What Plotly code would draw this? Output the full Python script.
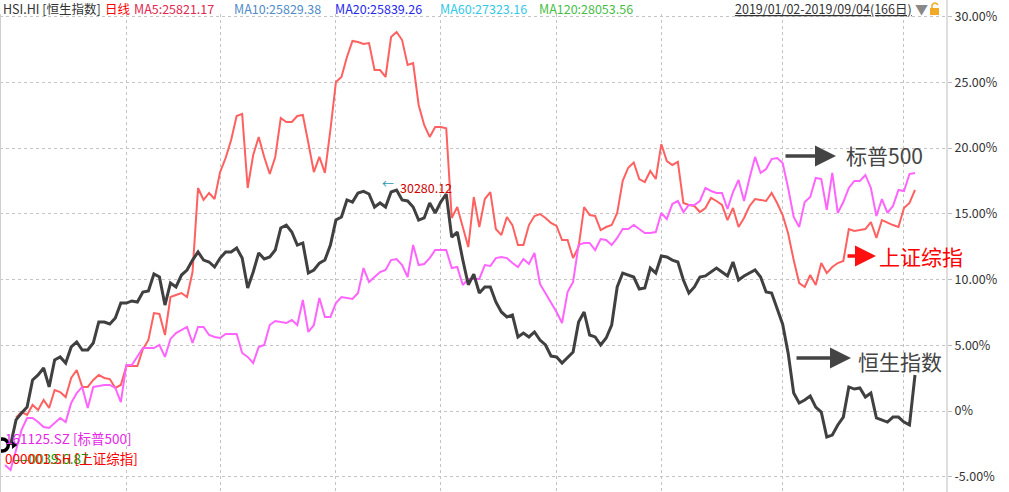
import plotly.graph_objects as go

# ---------------- data (cumulative % change) ----------------
hsi_days = list(range(1, 166))
hsi_values = [
    -2.59, -0.68, -0.15, 0.30, 2.36, 2.74, 3.27, 1.83, 3.88, 4.11,
    3.65, 4.87, 5.25, 4.64, 4.64, 5.17, 6.77, 6.77, 6.62, 7.07,
    8.21, 8.21, 8.37, 8.29, 9.05, 9.13, 10.42, 10.19, 8.06, 9.73,
    9.43, 10.34, 10.72, 11.48, 12.09, 11.48, 11.33, 10.95, 11.63, 12.09,
    12.09, 12.40, 11.63, 9.35, 10.57, 12.02, 11.56, 11.71, 12.24, 13.92,
    14.14, 13.61, 12.62, 12.78, 10.49, 10.72, 11.25, 11.48, 12.62, 14.52,
    14.75, 16.05, 15.89, 16.58, 16.70, 16.50, 15.51, 15.82, 15.51, 16.65,
    16.80, 16.05, 15.97, 15.51, 14.52, 14.68, 15.82, 15.06, 15.89, 16.50,
    13.23, 13.61, 11.50, 9.60, 10.40, 8.97, 9.43, 9.43, 8.29, 7.53,
    7.15, 7.30, 5.63, 5.93, 5.63, 6.01, 5.40, 5.02, 4.18, 4.11,
    3.65, 4.11, 4.49, 6.77, 7.53, 5.78, 5.63, 5.02, 5.55, 6.54,
    9.43, 10.49, 10.34, 10.19, 9.28, 9.35, 10.87, 10.49, 11.79, 11.71,
    11.48, 11.33, 9.96, 8.97, 9.43, 10.19, 10.27, 10.57, 10.87, 10.57,
    10.27, 11.33, 9.96, 10.27, 10.49, 10.72, 10.19, 9.05, 8.97, 7.83,
    6.60, 4.40, 1.37, 0.61, 0.84, 1.14, 0.30, -0.08, -1.98, -1.83,
    -1.06, -0.46, 1.83, 1.67, 1.75, 1.06, 1.37, -0.53, -0.68, -0.84,
    -0.46, -0.46, -0.84, -1.06, 2.74,
]

sh_days = list(range(2, 166))
sh_values = [
    -0.50, -0.08, -0.30, 0.46, 0.08, 0.84, 0.23, 1.60, 1.44, 1.06,
    2.51, 3.12, 1.83, 1.83, 2.36, 2.74, 2.51, 2.43, 1.75, 1.98,
    3.42, 3.42, 3.42, 4.71, 5.40, 7.45, 7.38, 5.78, 8.67, 8.82,
    8.97, 8.67, 10.57, 16.96, 16.05, 16.58, 16.12, 18.17, 19.24, 20.61,
    22.43, 22.59, 16.96, 19.47, 20.84, 19.32, 18.02, 19.32, 22.28, 21.98,
    21.98, 22.43, 22.51, 20.38, 18.17, 19.32, 18.10, 21.37, 25.02, 25.40,
    26.92, 28.14, 28.06, 27.91, 27.98, 25.93, 25.93, 25.40, 28.44, 28.82,
    28.21, 26.31, 26.46, 23.27, 21.75, 20.84, 21.60, 21.60, 21.50, 14.68,
    15.51, 14.00, 12.47, 16.27, 13.99, 16.12, 16.65, 13.84, 13.38, 14.75,
    14.14, 12.62, 12.62, 14.14, 14.83, 14.98, 14.68, 14.30, 14.07, 13.00,
    13.00, 11.63, 12.47, 15.51, 14.90, 14.83, 13.76, 13.99, 14.14, 15.06,
    17.50, 18.50, 18.90, 17.64, 17.41, 18.25, 17.64, 20.30, 19.01, 18.71,
    18.94, 15.82, 15.67, 15.59, 15.13, 15.44, 16.20, 15.97, 15.67, 14.52,
    15.44, 13.99, 14.68, 15.59, 16.12, 16.05, 15.97, 16.58, 15.82, 14.90,
    13.50, 11.48, 9.73, 9.43, 10.34, 9.58, 11.25, 10.49, 10.95, 11.25,
    11.41, 13.84, 13.69, 13.76, 13.84, 14.37, 13.16, 14.52, 14.30, 14.14,
    13.99, 15.44, 15.82, 16.81,
]

sp_days = [
    0, 1, 2, 3, 4, 5, 6, 7, 8, 10, 11, 12, 13, 14, 15, 16, 17, 18, 19, 20,
    21, 22, 23, 25, 27, 28, 29, 30, 31, 33, 34, 35, 36, 37, 38, 39, 40, 42, 43, 44,
    45, 46, 47, 48, 49, 50, 51, 52, 53, 54, 55, 56, 57, 58, 59, 60, 61, 63, 64, 65,
    66, 67, 68, 69, 70, 71, 72, 73, 74, 75, 76, 77, 78, 80, 81, 82, 83, 84, 85, 86,
    87, 88, 89, 90, 91, 92, 93, 94, 95, 96, 97, 98, 99, 100, 101, 102, 103, 104, 105, 106,
    107, 108, 109, 110, 111, 112, 113, 114, 115, 116, 117, 118, 119, 120, 121, 122, 123, 124, 125, 126,
    127, 128, 129, 130, 131, 132, 133, 134, 135, 136, 137, 138, 139, 140, 141, 142, 143, 144, 145, 146,
    147, 148, 149, 150, 151, 152, 153, 154, 155, 156, 157, 158, 159, 160, 161, 162, 163, 164, 165,
]
sp_values = [
    -4.11, -4.49, -2.97, -1.44, -0.53, -0.53, -0.84, -1.22, -1.29, -0.53, -0.84, 0.61, 1.37, 1.83, 0.23, 1.83, 1.90, 1.98, 1.98, 1.75,
    0.68, 3.50, 3.50, 4.79, 4.79, 5.02, 4.11, 5.48, 5.93, 6.39, 5.17, 6.39, 6.39, 5.78, 5.63, 5.55, 5.86, 5.86, 4.41, 4.11,
    3.65, 4.87, 5.02, 6.54, 6.84, 6.77, 6.69, 6.92, 6.54, 8.44, 6.01, 6.54, 8.59, 7.15, 7.15, 8.21, 8.67, 8.52, 8.97, 10.87,
    9.81, 10.19, 10.57, 10.72, 11.48, 11.56, 11.10, 10.19, 12.62, 11.10, 11.18, 11.63, 12.24, 12.24, 10.87, 10.95, 9.58, 10.04, 10.04, 10.04,
    11.10, 11.03, 11.63, 11.71, 11.63, 11.25, 10.95, 11.56, 11.18, 12.02, 9.66, 8.97, 8.21, 7.53, 6.69, 9.05, 9.81, 12.62, 12.78, 12.78,
    12.24, 13.08, 13.00, 12.62, 13.16, 13.84, 13.84, 14.14, 13.84, 13.54, 13.54, 13.61, 15.06, 14.60, 15.74, 15.97, 15.13, 15.67, 15.67, 15.97,
    16.96, 16.73, 16.58, 16.58, 15.36, 16.65, 17.57, 15.97, 17.72, 19.32, 18.10, 18.40, 19.16, 19.24, 18.86, 16.96, 14.75, 13.99, 15.89, 16.27,
    17.72, 17.64, 15.29, 18.10, 15.06, 15.89, 16.96, 17.49, 17.49, 17.95, 16.96, 14.83, 16.12, 15.06, 15.59, 16.81, 16.73, 18.02, 18.10,
]

month_start_days = [22, 39, 60, 79, 100, 119, 141, 163]
y_tick_vals = [-5, 0, 5, 10, 15, 20, 25, 30]
y_tick_text = ["-5.00%", "0%", "5.00%", "10.00%", "15.00%", "20.00%", "25.00%", "30.00%"]

hsi_max_label = "30280.12"

# ---------------- styling ----------------
FONT = "Microsoft YaHei, Noto Sans CJK SC, sans-serif"
W, H = 1009, 492
ML, MR, MT, MB = 0, 62, 14, 0
PW, PH = W - ML - MR, H - MT - MB


def PX(px):
    return (px - ML) / PW


def PY(py):
    return (H - MB - py) / PH


fig = go.Figure()
fig.add_trace(go.Scatter(x=sh_days, y=sh_values, mode="lines",
                         line=dict(color="rgb(255,96,96)", width=2), name="上证综指",
                         hoverinfo="skip"))
fig.add_trace(go.Scatter(x=sp_days, y=sp_values, mode="lines",
                         line=dict(color="rgb(255,100,255)", width=2), name="标普500",
                         hoverinfo="skip"))
fig.add_trace(go.Scatter(x=hsi_days, y=hsi_values, mode="lines",
                         line=dict(color="rgb(64,64,64)", width=3), name="恒生指数",
                         hoverinfo="skip"))
# start-point marker of HSI
fig.add_trace(go.Scatter(x=[hsi_days[0] - 1.5], y=[hsi_values[0]], mode="markers",
                         marker=dict(symbol="circle", size=12, color="white",
                                     line=dict(color="black", width=3.5)),
                         hoverinfo="skip", cliponaxis=False))
fig.add_trace(go.Scatter(x=[hsi_days[0] + 0.6], y=[hsi_values[0]], mode="markers",
                         marker=dict(symbol="triangle-right", size=7, color="black"),
                         hoverinfo="skip"))

ann = []


def header(text, px, color, size=12.5, anchor="left"):
    ann.append(dict(text=text, x=PX(px), y=PY(9), xref="paper", yref="paper",
                    xanchor=anchor, yanchor="middle", showarrow=False,
                    font=dict(family=FONT, size=size, color=color)))


header("HSI.HI [恒生指数]", 1, "#333333")
header("日线", 103, "#ff0000")
header("MA5:25821.17", 132, "rgb(226,40,80)")
header("MA10:25829.38", 232, "rgb(80,140,200)")
header("MA20:25839.26", 333, "rgb(40,40,235)")
header("MA60:27323.16", 438, "rgb(50,200,230)")
header("MA120:28053.56", 537, "rgb(70,190,70)")
header("<u>2019/01/02-2019/09/04(166日)</u>", 733, "#333333")
header("▼", 913, "#888888", size=13)

# bottom-left legend labels
ann.append(dict(text="161125.SZ [标普500]", x=PX(3), y=PY(438), xref="paper", yref="paper",
                xanchor="left", yanchor="middle", showarrow=False,
                font=dict(family=FONT, size=13.5, color="rgb(230,40,230)")))
ann.append(dict(text="‒‒0039.6.87", x=PX(12), y=PY(458), xref="paper", yref="paper",
                xanchor="left", yanchor="middle", showarrow=False,
                font=dict(family=FONT, size=13.5, color="rgb(0,160,0)")))
ann.append(dict(text="000001.SH [上证综指]", x=PX(3), y=PY(458), xref="paper", yref="paper",
                xanchor="left", yanchor="middle", showarrow=False,
                font=dict(family=FONT, size=13.5, color="rgb(255,0,0)")))

# max label of HSI
imax = max(range(len(hsi_values)), key=lambda i: hsi_values[i])
ann.append(dict(text=hsi_max_label, x=hsi_days[imax], y=hsi_values[imax], xref="x", yref="y",
                xanchor="left", yanchor="middle", xshift=1, yshift=3, showarrow=False,
                font=dict(family=FONT, size=12.5, color="rgb(210,0,0)")))
ann.append(dict(text="←", x=hsi_days[imax], y=hsi_values[imax], xref="x", yref="y",
                xanchor="right", yanchor="middle", xshift=-1, yshift=7, showarrow=False,
                font=dict(family=FONT, size=12, color="rgb(40,150,180)")))


# series name arrows + labels
def tag(text, color, head_px, head_py, tail_len, text_px, text_py, arrow_color):
    ann.append(dict(text="", x=PX(head_px), y=PY(head_py), xref="paper", yref="paper",
                    showarrow=True, ax=-tail_len, ay=0, axref="pixel", ayref="pixel",
                    arrowhead=2, arrowsize=1.2, arrowwidth=3.5, arrowcolor=arrow_color))
    ann.append(dict(text=text, x=PX(text_px), y=PY(text_py), xref="paper", yref="paper",
                    xanchor="left", yanchor="middle", showarrow=False,
                    font=dict(family=FONT, size=21, color=color)))


tag("标普500", "#444444", 836, 156, 52, 844, 155, "#444444")
tag("上证综指", "#ff0000", 876, 256, 30, 877, 256, "#ff1010")
tag("恒生指数", "#444444", 851, 358, 56, 856, 361, "#444444")

shapes = [
    # right axis line extended full height
    dict(type="line", xref="paper", yref="paper", x0=PX(947), x1=PX(947), y0=PY(492), y1=PY(0),
         line=dict(color="#bdbdbd", width=1)),
    # left border
    dict(type="line", xref="paper", yref="paper", x0=PX(0.5), x1=PX(0.5), y0=PY(492), y1=PY(14),
         line=dict(color="#cfcfcf", width=1)),
    # lock icon
    dict(type="rect", xref="paper", yref="paper", x0=PX(930), x1=PX(939), y0=PY(15), y1=PY(8),
         fillcolor="rgb(240,170,40)", line=dict(width=0)),
    dict(type="path", xref="paper", yref="paper",
         path=f"M {PX(932)} {PY(8)} L {PX(932)} {PY(5)} Q {PX(935)} {PY(1)} {PX(938)} {PY(5)}",
         line=dict(color="rgb(240,170,40)", width=1.5)),
]

fig.update_layout(
    width=W, height=H, autosize=False,
    margin=dict(l=ML, r=MR, t=MT, b=MB),
    paper_bgcolor="white", plot_bgcolor="white",
    showlegend=False,
    annotations=ann, shapes=shapes,
    xaxis=dict(range=[-0.91, 170.8], tickvals=month_start_days, showticklabels=False,
               showgrid=True, gridcolor="#c4c4c4", griddash="dot", gridwidth=1,
               zeroline=False, showline=False, ticks=""),
    yaxis=dict(side="right", range=[-6.16, 30.19], tickvals=y_tick_vals, ticktext=y_tick_text,
               showgrid=True, gridcolor="#c4c4c4", griddash="dot", gridwidth=1,
               zeroline=False, showline=False, ticks="outside", ticklen=4, tickcolor="#bdbdbd",
               tickfont=dict(family=FONT, size=12.5, color="#333333")),
)

fig.write_html("out.html", config={"displayModeBar": False},
               post_script="document.body.style.margin='0';document.body.style.overflow='hidden';")
